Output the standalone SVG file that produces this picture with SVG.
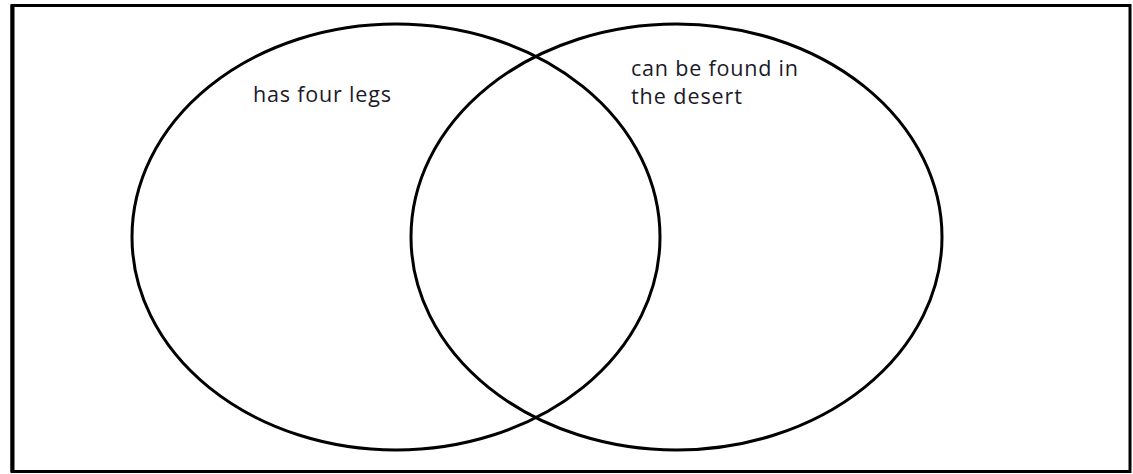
<svg xmlns="http://www.w3.org/2000/svg" width="1133" height="474" viewBox="0 0 1133 474">
<style>
.c{fill:none;stroke:#000;stroke-width:3}
.t{font-family:"Open Sans",Lato,sans-serif;font-size:21.5px;fill:#1a1a2a}
</style>
<rect x="0" y="0" width="1133" height="474" fill="#fff"/>
<g id="frame">
<rect x="12" y="5.5" width="1118" height="466" fill="none" stroke="#000" stroke-width="3"/>
<line x1="12.5" y1="5" x2="12.5" y2="472" stroke="#000" stroke-width="4"/>
</g>
<g id="set-left">
<ellipse class="c" cx="396" cy="237" rx="264" ry="213"/>
<text class="t" x="253" y="102" textLength="138" lengthAdjust="spacing">has four legs</text>
</g>
<g id="set-right">
<ellipse class="c" cx="676.5" cy="237" rx="265.5" ry="213"/>
<text class="t" x="631" y="76" textLength="167" lengthAdjust="spacing">can be found in</text>
<text class="t" x="631" y="104" textLength="111" lengthAdjust="spacing">the desert</text>
</g>
<g id="connectors"></g>
</svg>
